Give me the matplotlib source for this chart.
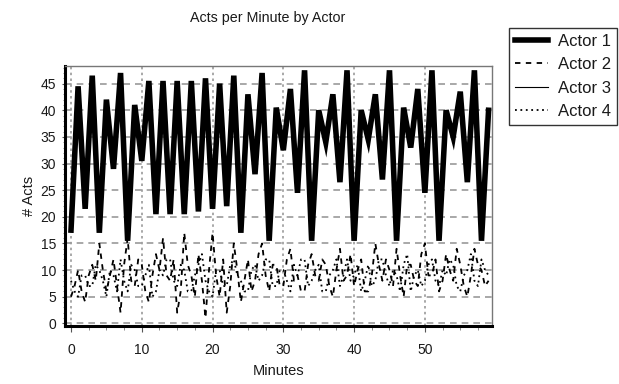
import matplotlib
matplotlib.use("Agg")
import matplotlib.pyplot as plt
from matplotlib.ticker import MultipleLocator

plt.rcParams['font.family'] = ['Liberation Sans', 'DejaVu Sans']

# Actor 1 and 3: one value per minute
minutes = list(range(60))
actor1 = [17.5, 44.5, 21.5, 46.5, 17, 42, 29, 47, 15.5, 41,
          30.5, 45.5, 20.5, 45.5, 20.5, 45.5, 20.5, 45.5, 21, 46,
          21.5, 45, 22, 46.5, 17, 43, 28, 47, 15.5, 40.5,
          32.5, 44, 24.5, 47.5, 15.5, 40, 34, 43, 26.5, 47.5,
          15.5, 40, 34.5, 43, 27, 47.5, 15.5, 40.5, 33, 44,
          24.5, 47.5, 15.5, 40, 35, 43.5, 26.5, 47.5, 15.5, 40]
actor3 = [20, 41, 24, 43, 20, 39, 31, 44, 18, 38,
          32, 42, 23, 42, 23, 42, 23, 42, 24, 43,
          24, 42, 25, 43, 20, 40, 30, 44, 18, 38,
          34, 41, 27, 44, 18, 37, 35, 40, 29, 44,
          18, 37, 36, 40, 29, 44, 18, 38, 35, 41,
          27, 44, 18, 37, 36, 40, 29, 44, 18, 38]

# Actor 2 and 4: one value per half minute (0, 0.5, ..., 59)
half_minutes = [i / 2 for i in range(119)]
actor2 = [5, 7, 10, 6, 4, 9, 11, 8, 15, 10, 6, 9, 12, 7, 2, 11, 16, 8, 7, 12,
          11, 6, 4, 9, 13, 10, 16, 9, 8, 12, 2, 6, 17, 11, 9, 5, 13, 8, 1, 10,
          17, 9, 5, 12, 2, 7, 15, 10, 4, 8, 12, 6, 8, 13, 15, 9, 6, 11, 11, 7,
          7, 12, 14, 8, 9, 6, 6, 11, 13, 9, 8, 12, 11, 7, 5, 10, 14, 8, 9, 13,
          7, 10, 12, 6, 6, 9, 15, 11, 8, 12, 10, 7, 14, 9, 5, 11, 11, 8, 7, 13,
          15, 9, 9, 12, 6, 8, 13, 10, 8, 14, 11, 7, 5, 9, 14, 11, 10, 7, 8]
actor4 = [8, 6, 5, 9, 9, 7, 7, 11, 10, 8, 5, 10, 9, 6, 12, 8, 6, 11, 10, 7,
          7, 9, 11, 5, 6, 10, 9, 12, 12, 8, 7, 11, 10, 6, 6, 9, 11, 13, 8, 6,
          5, 10, 10, 7, 7, 11, 12, 9, 8, 6, 6, 10, 11, 8, 9, 12, 12, 7, 7, 10,
          10, 8, 6, 11, 9, 12, 12, 7, 8, 10, 11, 6, 6, 9, 10, 12, 7, 9, 12, 8,
          9, 11, 6, 8, 11, 7, 8, 12, 12, 9, 7, 10, 9, 6, 11, 13, 6, 9, 10, 7,
          8, 11, 12, 8, 7, 10, 9, 12, 11, 7, 6, 9, 10, 13, 8, 7, 12, 10, 9]

title = "Acts per Minute by Actor"
xlabel = "Minutes"
ylabel = "# Acts"
labels = ["Actor 1", "Actor 2", "Actor 3", "Actor 4"]

fig = plt.figure(figsize=(6.19, 3.84), dpi=100)
ax = fig.add_axes([0.105, 0.151, 0.690, 0.677])

ax.plot(minutes, actor1, color='black', lw=4.0, solid_joinstyle='miter', label=labels[0], zorder=3)
ax.plot(half_minutes, actor2, color='black', lw=1.3, ls=(0, (3, 3)), label=labels[1], zorder=2)
ax.plot(minutes, actor3, color='black', lw=0.8, ls='-', label=labels[2], zorder=4)
ax.plot(half_minutes, actor4, color='black', lw=1.3, ls=(0, (1, 2)), label=labels[3], zorder=2)

ax.set_xlim(-0.85, 59.5)
ax.set_ylim(-0.5, 48.3)
ax.xaxis.set_major_locator(MultipleLocator(10))
ax.xaxis.set_minor_locator(MultipleLocator(2.5))
ax.yaxis.set_major_locator(MultipleLocator(5))
ax.yaxis.set_minor_locator(MultipleLocator(1))
ax.grid(axis='y', which='major', color='#9a9a9a', ls=(0, (4, 3)), lw=1.2)
ax.grid(axis='x', which='major', color='#9a9a9a', ls=(0, (1.5, 2)), lw=1.2)
ax.set_axisbelow(True)
ax.tick_params(axis='x', which='major', labelsize=10, length=4, color='#555555',
               labelcolor='#1a1a1a', pad=8)
ax.tick_params(axis='x', which='minor', length=3, color='#777777')
ax.tick_params(axis='y', which='major', labelsize=10, length=2.5, color='#555555',
               labelcolor='#1a1a1a', pad=4)
ax.tick_params(axis='y', which='minor', length=1.5, color='#777777')

for side in ['left', 'bottom']:
    ax.spines[side].set_linewidth(2.2)
    ax.spines[side].set_color('black')
for side in ['top', 'right']:
    ax.spines[side].set_linewidth(1.0)
    ax.spines[side].set_color('#777777')

fig.text(268 / 619, 1 - 18 / 384, title, fontsize=10.3, color='#1a1a1a', ha='center', va='center')
ax.set_xlabel(xlabel, fontsize=10.5, color='#1a1a1a', labelpad=5)
ax.set_ylabel(ylabel, fontsize=10.5, color='#1a1a1a', labelpad=3)

leg = ax.legend(loc='upper left', bbox_to_anchor=(1.04, 1.146), frameon=True, fancybox=False,
                edgecolor='black', fontsize=12, handlelength=2.0, labelspacing=0.5,
                borderpad=0.35, handletextpad=0.6, borderaxespad=0)
leg.get_frame().set_linewidth(1.0)
for t in leg.get_texts():
    t.set_color('#1a1a1a')

fig.savefig("out.png", dpi=100)
